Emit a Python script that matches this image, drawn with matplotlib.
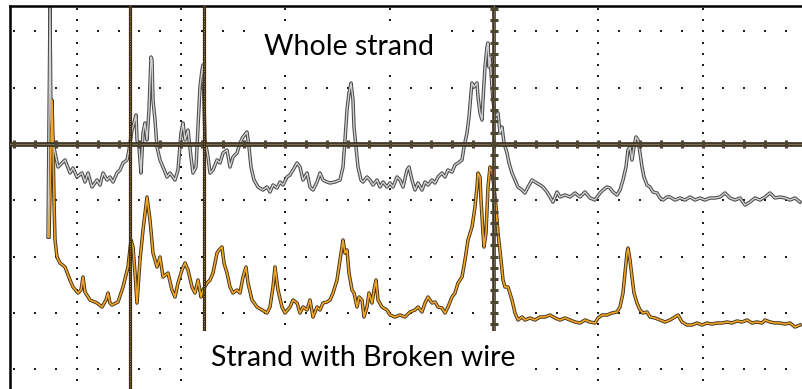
import matplotlib
matplotlib.use("Agg")
import matplotlib.pyplot as plt
import numpy as np
from matplotlib.patches import Rectangle

# ---- data: time in samples, amplitude in display units (0 = centre graticule line)
whole_t = [48, 50, 51, 53, 58, 62, 65, 70, 73, 77, 82, 85, 88, 92, 97, 100, 103, 107, 110, 113,
           117, 120, 123, 127, 129, 132, 134, 136, 137, 139, 141, 143, 145, 147, 149, 151, 152, 153, 155, 157,
           160, 163, 167, 170, 175, 178, 181, 183, 185, 188, 191, 193, 196, 198, 200, 202, 203, 205, 208, 210,
           213, 217, 220, 223, 227, 230, 233, 237, 240, 243, 247, 249, 251, 254, 258, 263, 267, 270, 273, 277,
           280, 283, 287, 290, 293, 297, 300, 303, 307, 310, 313, 317, 320, 323, 327, 330, 335, 340, 343, 345,
           347, 349, 351, 353, 354, 356, 358, 361, 363, 367, 370, 373, 377, 380, 383, 387, 390, 393, 397, 400,
           403, 407, 409, 412, 415, 418, 422, 425, 428, 432, 435, 438, 442, 445, 448, 452, 455, 458, 462, 464,
           467, 469, 471, 472, 474, 477, 478, 480, 482, 483, 485, 487, 488, 489, 490, 492, 493, 495, 498, 500,
           502, 504, 507, 509, 512, 515, 518, 522, 525, 528, 532, 535, 540, 543, 547, 550, 553, 557, 560, 565,
           570, 575, 580, 585, 590, 595, 600, 603, 607, 610, 613, 617, 620, 623, 626, 628, 630, 632, 634, 636,
           638, 640, 642, 644, 647, 650, 653, 657, 660, 663, 667, 670, 675, 680, 685, 690, 695, 700, 705, 710,
           715, 720, 725, 730, 735, 740, 745, 750, 755, 760, 765, 770, 775, 780, 785, 790, 795, 800]
whole_a = [-93, 136, 24, 1, -23, -19, -16, -29, -24, -33, -29, -38, -29, -43, -36, -41, -29, -36, -33, -38,
           -29, -26, -19, -16, -6, 14, 21, 29, 4, -3, -29, 11, 21, 4, 34, 87, 84, 44, 24, -3,
           -16, -23, -33, -29, -36, -26, 11, 21, 4, 14, -13, -29, -23, 17, 57, 74, 79, 4, -13, -29,
           -26, -16, -19, -9, -6, -23, -13, -9, 1, 7, 12, -3, -23, -36, -43, -46, -43, -48, -41, -44,
           -38, -41, -33, -31, -26, -19, -23, -36, -29, -43, -46, -38, -29, -36, -38, -39, -38, -36, -23, 4,
           34, 51, 61, 44, 17, -3, -23, -36, -38, -33, -36, -41, -36, -43, -38, -43, -39, -43, -33, -36,
           -43, -26, -23, -36, -46, -39, -46, -38, -41, -36, -39, -33, -29, -33, -26, -28, -21, -19, -16, -3,
           11, 27, 51, 61, 57, 61, 47, 31, 24, 44, 77, 97, 101, 77, 87, 57, 44, 27, 31, 11,
           17, 1, -9, -19, -29, -36, -43, -46, -49, -43, -36, -38, -41, -43, -48, -53, -58, -48, -53, -51,
           -53, -49, -53, -48, -54, -56, -49, -46, -43, -44, -48, -51, -46, -36, -23, -6, -3, -16, -3, 7,
           4, -9, -23, -33, -41, -43, -48, -49, -54, -56, -53, -53, -56, -54, -56, -53, -56, -54, -56, -54,
           -54, -53, -49, -54, -56, -54, -61, -58, -54, -56, -53, -49, -54, -53, -54, -56, -54, -58]

broken_t = [49, 52, 53, 54, 55, 57, 60, 65, 70, 73, 78, 81, 83, 85, 90, 97, 102, 106, 108, 110,
            112, 118, 123, 128, 131, 133, 135, 137, 140, 143, 147, 150, 153, 157, 160, 163, 168, 172, 175, 178,
            182, 185, 188, 192, 195, 198, 201, 203, 207, 210, 213, 217, 219, 222, 224, 227, 230, 233, 237, 240,
            243, 246, 248, 252, 257, 262, 267, 270, 273, 275, 278, 282, 285, 290, 293, 297, 300, 303, 307, 310,
            313, 317, 320, 323, 327, 330, 333, 337, 339, 342, 343, 345, 347, 349, 352, 354, 357, 359, 362, 364,
            367, 369, 372, 374, 376, 378, 382, 387, 390, 395, 400, 405, 410, 415, 418, 422, 425, 428, 432, 435,
            438, 442, 445, 448, 452, 455, 458, 462, 465, 468, 472, 475, 477, 478, 480, 481, 483, 484, 486, 488,
            490, 492, 494, 496, 498, 501, 503, 505, 508, 512, 515, 518, 522, 525, 530, 535, 540, 545, 550, 555,
            560, 565, 570, 575, 580, 585, 590, 595, 598, 602, 607, 612, 617, 620, 623, 625, 627, 628, 630, 632,
            634, 637, 640, 643, 647, 650, 655, 660, 665, 670, 675, 678, 682, 687, 692, 697, 702, 707, 712, 717,
            722, 727, 732, 737, 742, 747, 752, 757, 762, 765, 770, 775, 780, 785, 790, 795, 800]
broken_a = [-93, 44, 4, -56, -96, -113, -119, -123, -136, -143, -149, -146, -133, -148, -156, -159, -163, -156, -149, -159,
            -161, -158, -143, -123, -96, -103, -129, -159, -116, -86, -53, -76, -109, -123, -113, -133, -129, -146, -153, -139,
            -126, -119, -126, -143, -149, -136, -153, -146, -139, -136, -129, -109, -106, -103, -119, -129, -143, -149, -146, -149,
            -133, -123, -139, -156, -163, -166, -169, -163, -143, -123, -146, -163, -169, -163, -156, -159, -169, -163, -166, -156,
            -173, -163, -166, -159, -158, -156, -149, -136, -123, -103, -96, -109, -106, -129, -146, -149, -163, -153, -156, -173,
            -163, -149, -159, -146, -136, -156, -163, -166, -171, -173, -171, -173, -168, -166, -163, -168, -159, -153, -159, -158,
            -163, -164, -169, -163, -153, -149, -139, -133, -116, -96, -83, -63, -43, -29, -33, -56, -89, -103, -89, -43,
            -23, -26, -43, -63, -89, -116, -136, -143, -143, -156, -169, -176, -173, -176, -174, -176, -173, -173, -171, -174,
            -176, -174, -176, -178, -179, -176, -178, -179, -174, -171, -171, -169, -168, -163, -149, -129, -109, -104, -116, -133,
            -149, -159, -166, -169, -168, -173, -174, -176, -178, -176, -173, -171, -178, -181, -181, -179, -181, -179, -180, -179,
            -179, -178, -179, -177, -178, -176, -179, -178, -179, -176, -178, -179, -179, -180, -179, -183, -181]

cursor_t = [130, 204]
label_whole = "Whole strand"
label_broken = "Strand with Broken wire"

# ---- graticule geometry
centre_t = 494.0
div_t = 104.3
div_a = 56.3
x_min, x_max = 10, 802
y_min, y_max = -245, 138

fig = plt.figure(figsize=(8.02, 3.89), dpi=100)
fig.patch.set_facecolor("white")
ax = fig.add_axes([10 / 802, 0, 792 / 802, 383 / 389])
ax.set_xlim(x_min, x_max)
ax.set_ylim(y_min, y_max)
ax.set_xticks([])
ax.set_yticks([])
for s in ["right", "bottom"]:
    ax.spines[s].set_visible(False)
for s in ["left", "top"]:
    ax.spines[s].set_linewidth(1.8)
    ax.spines[s].set_color("black")

minor_t = centre_t + div_t / 5 * np.arange(-30, 30)
minor_t = minor_t[(minor_t > x_min + 2) & (minor_t < x_max - 2)]
minor_a = div_a / 5 * np.arange(-30, 30)
minor_a = minor_a[(minor_a > y_min + 2) & (minor_a < y_max - 2)]
major_t = centre_t + div_t * np.arange(-4, 3)
major_a = div_a * np.arange(-4, 3)

dot_kw = dict(ls="none", marker="s", ms=2.0, color="#1c1c1c", mew=0, zorder=1)
for a in major_a:
    if a == 0:
        continue
    ax.plot(minor_t, np.full_like(minor_t, a), **dot_kw)
for t in major_t:
    if t == centre_t:
        continue
    ax.plot(np.full_like(minor_a, t), minor_a, **dot_kw)

# traces (outline + fill colour)
ax.plot(whole_t, whole_a, color="#4a4a4a", lw=2.5, zorder=2, solid_joinstyle="round")
ax.plot(whole_t, whole_a, color="#d2d2d2", lw=1.0, zorder=2.1, solid_joinstyle="round")
ax.plot(broken_t, broken_a, color="#3f3119", lw=2.5, zorder=2, solid_joinstyle="round")
ax.plot(broken_t, broken_a, color="#f2a526", lw=1.2, zorder=2.1, solid_joinstyle="round")

# centre axes with ticks
axis_dark = "#3c3424"
axis_light = "#7a6d52"
ax.axhline(0, color=axis_dark, lw=3.4, zorder=3)
ax.axhline(0, color=axis_light, lw=0.9, zorder=3.1)
ax.plot(minor_t, np.zeros_like(minor_t), ls="none", marker="|", ms=6.0, mew=2.2,
        color="#4e4530", zorder=3.2)
ax.axvline(centre_t, color=axis_dark, lw=2.6, zorder=3)
ax.axvline(centre_t, color=axis_light, lw=0.7, zorder=3.1)
ax.plot(np.full_like(minor_a, centre_t), minor_a, ls="none", marker="_", ms=6.0, mew=2.2,
        color="#4e4530", zorder=3.2)

# cursors
for c in cursor_t:
    ax.axvline(c, color="#3a2d18", lw=2.3, zorder=3.3)
    ax.axvline(c, color="#d8932a", lw=0.6, ls=(0, (1.2, 1.8)), zorder=3.4)

# label boxes
ax.add_patch(Rectangle((252, 73), 192, 48, facecolor="white", edgecolor="none", zorder=5))
ax.add_patch(Rectangle((199, y_min), 330, 58, facecolor="white", edgecolor="none", zorder=5))
ax.text(349, 89, label_whole, ha="center", va="baseline", fontsize=20.5,
        family=["Lato", "DejaVu Sans"], color="black", zorder=6)
ax.text(363, -222, label_broken, ha="center", va="baseline", fontsize=20.5,
        family=["Lato", "DejaVu Sans"], color="black", zorder=6)

fig.savefig("out.png", dpi=100, facecolor="white")
